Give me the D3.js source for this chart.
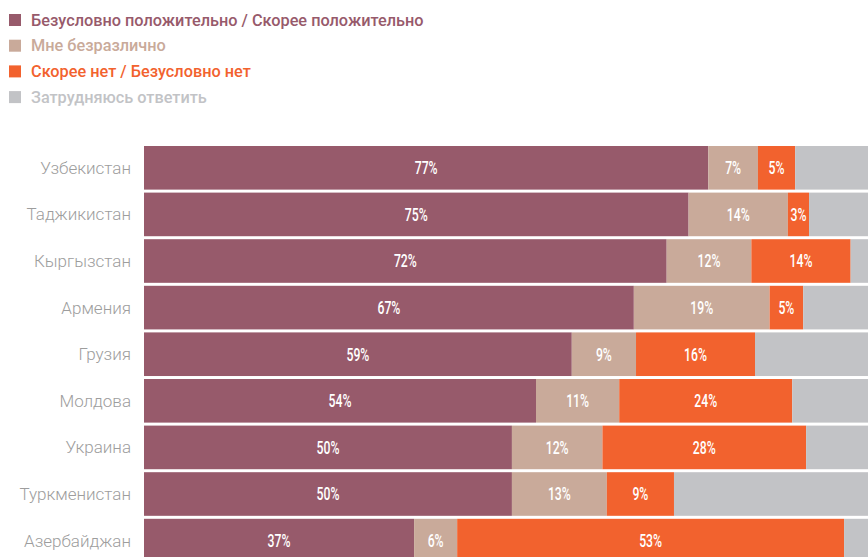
<!DOCTYPE html>
<html>
<head>
<meta charset="utf-8">
<script src="https://cdn.jsdelivr.net/npm/d3@7"></script>
<style>
  body { margin: 0; background: #fff; }
  svg { display: block; }
</style>
</head>
<body>
<div id="chart"></div>
<script>
var width = 868,
    height = 557;

// survey answers by country, percent
var countries = ["Узбекистан", "Таджикистан", "Кыргызстан", "Армения", "Грузия", "Молдова", "Украина", "Туркменистан", "Азербайджан"];
var positive = [77.3, 74.6, 71.6, 67.1, 58.6, 53.7, 50.4, 50.4, 37.0];
var neutral  = [6.8, 13.6, 11.6, 18.6, 8.8, 11.4, 12.4, 13.0, 5.9];
var negative = [5.1, 2.9, 13.6, 4.6, 16.3, 23.7, 27.9, 9.2, 53.0];
var unsure   = [10.8, 8.9, 3.2, 9.7, 16.3, 11.2, 9.3, 27.4, 4.1];

var seriesNames = ["Безусловно положительно / Скорее положительно", "Мне безразлично", "Скорее нет / Безусловно нет", "Затрудняюсь ответить"];
var seriesKeys = ["positive", "neutral", "negative", "unsure"];
var colors = ["#975a6b", "#c9aa9a", "#f2622e", "#c2c3c6"];

var data = countries.map(function(c, i) {
  return { country: c, positive: positive[i], neutral: neutral[i], negative: negative[i], unsure: unsure[i] };
});

var stack = d3.stack().keys(seriesKeys);
var layers = stack(data);

var x = d3.scaleLinear()
  .domain([0, 100])
  .range([144, 874]);

var step = 46.6, pad = 0.064;
var y = d3.scaleBand()
  .domain(countries)
  .range([146, 146 + step * (countries.length - pad)])
  .paddingInner(pad)
  .paddingOuter(0);

var color = d3.scaleOrdinal()
  .domain(seriesKeys)
  .range(colors);

var svg = d3.select("#chart").append("svg")
  .attr("width", width)
  .attr("height", height);

// legend
var legend = svg.append("g")
  .selectAll("g")
  .data(seriesKeys)
  .enter().append("g")
    .attr("transform", function(d, i) { return "translate(9," + (20 + i * 25.7) + ")"; });

legend.append("rect")
  .attr("x", 0)
  .attr("y", -6)
  .attr("width", 12)
  .attr("height", 12)
  .attr("fill", function(d) { return color(d); });

legend.append("text")
  .attr("x", 22)
  .attr("dy", "0.35em")
  .style("font-family", "Roboto, sans-serif")
  .style("font-size", "16.3px")
  .style("font-weight", 500)
  .attr("fill", function(d) { return color(d); })
  .text(function(d, i) { return seriesNames[i]; });

// bars
var layer = svg.append("g")
  .selectAll("g")
  .data(layers)
  .enter().append("g")
    .attr("fill", function(d) { return color(d.key); });

layer.selectAll("rect")
  .data(function(d) { return d; })
  .enter().append("rect")
    .attr("x", function(d) { return x(d[0]); })
    .attr("y", function(d) { return y(d.data.country); })
    .attr("width", function(d) { return x(d[1]) - x(d[0]); })
    .attr("height", y.bandwidth());

// value labels (not on the "unsure" segment)
var fmt = d3.format(".0f");
layer.filter(function(d) { return d.key !== "unsure"; })
  .selectAll("text")
  .data(function(d) { return d; })
  .enter().append("text")
    .attr("transform", function(d) {
      return "translate(" + ((x(d[0]) + x(d[1])) / 2) + "," + (y(d.data.country) + y.bandwidth() / 2) + ") scale(0.68,1)";
    })
    .attr("text-anchor", "middle")
    .attr("dy", "0.36em")
    .attr("fill", "#fff")
    .style("font-family", "Roboto, sans-serif")
    .style("font-size", "18px")
    .style("font-weight", 500)
    .text(function(d) { return fmt(d[1] - d[0]) + "%"; });

// country labels
svg.append("g")
  .selectAll("text")
  .data(countries)
  .enter().append("text")
    .attr("x", 131)
    .attr("y", function(d) { return y(d) + y.bandwidth() / 2; })
    .attr("dy", "0.35em")
    .attr("text-anchor", "end")
    .attr("fill", "#9d9d9d")
    .style("font-family", "Roboto, sans-serif")
    .style("font-size", "17px")
    .style("font-weight", 300)
    .text(function(d) { return d; });
</script>
</body>
</html>
